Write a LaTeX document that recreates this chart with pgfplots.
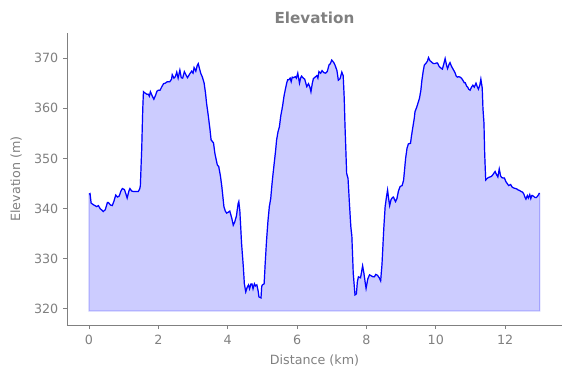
\documentclass[border=0pt]{standalone}
\usepackage{pgfplots}
\usepackage{pgfplotstable}
\pgfplotsset{compat=1.18}
\usepgfplotslibrary{fillbetween}
\usepackage{fontspec}
\setmainfont{DejaVu Sans}
\definecolor{mgray}{HTML}{808080}
\pgfplotstableread{
x y
0.00 342.9
0.03 343.0
0.06 341.1
0.12 340.8
0.17 340.6
0.22 340.4
0.27 340.6
0.32 340.0
0.37 339.7
0.41 339.4
0.47 339.8
0.53 341.2
0.56 341.2
0.62 340.7
0.67 340.6
0.72 341.5
0.77 342.7
0.82 342.3
0.87 342.5
0.92 343.5
0.96 344.0
1.02 343.8
1.06 343.0
1.10 342.1
1.15 343.5
1.18 344.0
1.23 343.5
1.28 343.4
1.35 343.4
1.42 343.4
1.46 343.9
1.48 344.5
1.52 352.0
1.55 360.0
1.57 363.3
1.62 363.0
1.67 362.8
1.71 362.8
1.74 362.4
1.77 363.3
1.82 362.5
1.87 361.8
1.92 362.6
1.96 363.4
2.00 363.6
2.05 363.6
2.10 364.3
2.15 364.9
2.20 365.0
2.26 365.3
2.33 365.3
2.38 365.8
2.40 366.7
2.45 366.0
2.49 366.3
2.53 367.2
2.57 366.0
2.62 367.6
2.66 366.1
2.70 366.0
2.75 367.3
2.80 366.6
2.84 366.1
2.90 366.8
2.96 367.4
3.00 367.0
3.03 368.1
3.08 367.4
3.12 368.5
3.15 368.9
3.22 367.0
3.27 366.2
3.32 365.0
3.36 363.0
3.39 361.0
3.44 358.5
3.49 355.7
3.52 353.7
3.59 353.1
3.63 351.0
3.66 350.0
3.70 348.7
3.74 348.4
3.79 346.5
3.83 344.4
3.89 340.4
3.93 339.5
3.97 339.1
4.02 339.3
4.06 339.5
4.12 338.0
4.16 336.7
4.20 337.3
4.25 338.5
4.30 341.0
4.32 341.4
4.35 339.5
4.40 333.0
4.45 328.4
4.48 325.0
4.52 323.4
4.56 324.3
4.60 324.8
4.63 324.0
4.67 325.0
4.70 325.0
4.73 324.0
4.77 325.0
4.80 324.6
4.84 324.8
4.88 323.5
4.90 322.4
4.96 322.2
4.98 324.5
5.00 324.8
5.05 325.0
5.08 329.0
5.12 333.7
5.16 337.5
5.20 340.4
5.24 342.0
5.27 344.4
5.30 346.5
5.34 349.0
5.38 351.5
5.41 353.7
5.45 355.3
5.49 356.3
5.53 358.5
5.56 359.6
5.59 360.8
5.62 362.3
5.66 363.7
5.70 365.0
5.73 365.7
5.76 365.7
5.80 366.0
5.83 365.3
5.86 366.2
5.90 366.1
5.95 366.3
5.98 366.0
6.02 367.0
6.07 365.0
6.10 366.0
6.13 366.4
6.18 366.0
6.22 365.8
6.26 364.8
6.28 364.3
6.33 364.9
6.37 364.2
6.40 363.3
6.44 365.0
6.47 365.9
6.52 366.2
6.57 366.5
6.60 366.0
6.63 367.3
6.68 367.0
6.72 367.5
6.77 367.1
6.82 367.0
6.87 367.3
6.92 368.6
6.96 368.9
7.00 369.6
7.06 369.1
7.10 368.5
7.15 367.5
7.19 365.6
7.24 365.9
7.29 367.2
7.33 366.5
7.36 362.0
7.38 357.0
7.41 351.0
7.43 347.0
7.47 346.0
7.51 341.0
7.55 336.4
7.58 334.5
7.62 327.1
7.67 322.8
7.71 323.0
7.74 325.5
7.77 326.4
7.83 326.2
7.89 328.6
7.93 327.0
7.97 325.0
7.99 324.1
8.04 326.0
8.09 326.8
8.14 326.6
8.19 326.4
8.23 326.4
8.27 326.9
8.32 326.7
8.37 326.2
8.41 325.6
8.45 329.0
8.50 336.0
8.54 340.4
8.58 342.4
8.61 343.7
8.64 342.0
8.67 340.6
8.71 341.8
8.75 342.2
8.78 342.3
8.81 341.8
8.84 341.4
8.88 342.0
8.92 343.4
8.97 344.4
9.03 344.6
9.07 345.6
9.09 347.0
9.13 350.0
9.17 352.0
9.21 352.9
9.27 353.0
9.30 354.5
9.34 356.3
9.38 358.0
9.40 359.3
9.45 360.2
9.49 361.1
9.53 362.0
9.57 363.6
9.60 365.6
9.64 367.5
9.67 368.6
9.72 369.0
9.76 369.4
9.79 370.1
9.83 369.5
9.88 369.2
9.93 368.9
9.97 368.9
10.01 369.0
10.05 369.0
10.10 368.3
10.15 368.0
10.19 367.8
10.23 368.8
10.27 369.9
10.31 368.6
10.34 367.9
10.38 368.7
10.41 369.1
10.45 368.4
10.49 367.9
10.53 367.4
10.56 367.0
10.59 366.4
10.62 366.2
10.66 366.3
10.70 366.2
10.74 366.0
10.78 365.6
10.82 365.1
10.85 365.1
10.89 364.4
10.92 364.2
10.95 363.8
10.99 363.6
11.03 364.2
11.07 364.6
11.11 364.2
11.16 365.0
11.19 364.4
11.23 363.8
11.27 364.6
11.30 365.8
11.34 364.0
11.36 360.0
11.39 357.0
11.41 351.0
11.44 345.7
11.48 346.0
11.52 346.2
11.56 346.3
11.60 346.4
11.63 346.6
11.67 347.0
11.71 347.4
11.75 346.8
11.79 346.3
11.83 347.9
11.87 346.5
11.90 346.2
11.94 346.1
11.98 346.1
12.02 345.4
12.06 345.0
12.10 344.6
12.16 344.8
12.20 344.3
12.25 344.1
12.30 344.0
12.34 343.9
12.38 343.7
12.42 343.6
12.46 343.4
12.50 343.3
12.54 342.9
12.57 342.3
12.60 341.9
12.64 342.6
12.67 342.1
12.71 342.8
12.74 342.0
12.77 342.6
12.79 342.6
12.83 342.4
12.86 342.2
12.90 342.2
12.94 342.5
12.98 343.0
13.00 343.0
}\elev
\begin{document}
\begin{tikzpicture}
\begin{axis}[
  scale only axis,
  width=495pt, height=292pt,
  xmin=-0.635, xmax=13.64,
  ymin=316.8, ymax=375,
  axis x line*=bottom, axis y line*=left,
  axis line style={mgray, line width=0.9pt},
  every tick/.style={mgray, line width=0.9pt},
  tick align=outside, major tick length=4.2pt,
  xtick={0,2,...,12}, ytick={320,330,...,370},
  tick label style={font=\fontsize{12.7}{15}\selectfont, text=mgray},
  xticklabel style={yshift=-2.5pt},
  yticklabel style={xshift=-1pt},
  /pgf/number format/assume math mode=true,
  label style={font=\fontsize{12.7}{15}\selectfont, text=mgray},
  xlabel={Distance (km)},
  ylabel={Elevation (m)},
  xlabel style={at={(axis description cs:0.5,-0.1233)}, anchor=center},
  ylabel style={at={(axis description cs:-0.103,0.5)}, anchor=center, rotate=0},
  title={Elevation},
  title style={font=\bfseries\fontsize{15.2}{18}\selectfont, text=mgray, at={(axis description cs:0.5,1)}, anchor=center, yshift=9pt},
  clip=false,
]
\addplot[name path=A, blue, line width=1.2pt] table[x=x,y=y] {\elev};
\addplot[name path=B, draw=none] coordinates {(0,319.6) (13,319.6)};
\addplot[fill=blue, fill opacity=0.2, draw=blue, draw opacity=0.2, line width=1.2pt] fill between[of=A and B];
\end{axis}
\path (current axis.south west) ++(-67pt,-53pt) coordinate (bbsw);
\path (current axis.north east) ++(9pt,33pt) coordinate (bbne);
\useasboundingbox (bbsw) rectangle (bbne);
\end{tikzpicture}
\end{document}
